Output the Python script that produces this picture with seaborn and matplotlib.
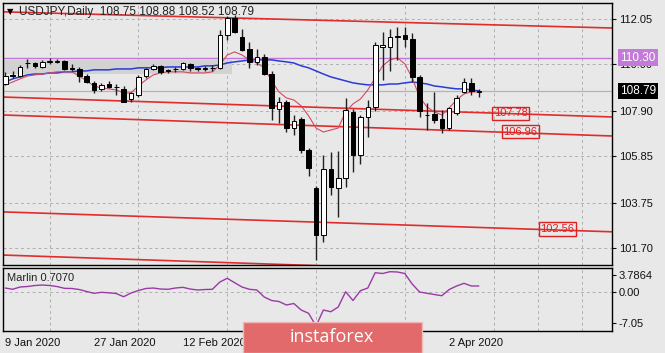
import matplotlib
matplotlib.use('Agg')
import matplotlib.pyplot as plt
from matplotlib.patches import Rectangle
from matplotlib.ticker import FixedLocator
import seaborn as sns

# USDJPY daily candles, 9 Jan .. 8 Apr 2020 (bar index 0..64)
opens = [109.10, 109.50, 109.45, 110.05, 110.05, 109.88, 110.12, 110.12, 110.15, 109.82,
         109.80, 109.47, 109.15, 108.88, 109.10, 108.98, 108.90, 108.43, 108.62, 109.47,
         109.79, 109.93, 109.74, 109.78, 109.79, 110.00, 109.82, 109.80, 109.83, 109.83,
         111.33, 112.10, 111.24, 110.70, 110.10, 110.33, 109.56, 107.98, 108.30, 107.12,
         107.53, 106.13, 104.41, 102.29, 105.27, 104.41, 104.86, 107.85, 105.90, 107.62,
         108.07, 110.80, 110.79, 111.24, 111.33, 111.15, 109.43, 107.70, 107.76, 107.53,
         107.12, 107.80, 108.75, 109.16, 108.75]
highs = [109.66, 109.69, 109.95, 110.22, 110.12, 110.18, 110.30, 110.22, 110.20, 110.00,
         109.90, 109.55, 109.25, 109.15, 109.25, 109.10, 109.02, 108.75, 109.50, 109.85,
         110.02, 109.98, 109.80, 109.90, 110.12, 110.08, 109.90, 109.92, 109.95, 111.55,
         112.18, 112.23, 111.60, 111.00, 110.70, 110.45, 109.70, 108.53, 108.40, 107.71,
         107.60, 106.20, 104.50, 105.90, 106.04, 106.10, 108.48, 108.00, 107.70, 108.39,
         111.00, 111.46, 111.60, 111.70, 111.70, 111.40, 109.50, 108.25, 108.75, 107.94,
         108.07, 108.62, 109.38, 109.38, 108.88]
lows = [109.05, 109.40, 109.42, 109.85, 109.85, 109.82, 110.00, 110.05, 109.76, 109.70,
        109.20, 109.15, 108.70, 108.80, 108.95, 108.60, 108.30, 108.30, 108.50, 109.40,
        109.75, 109.58, 109.60, 109.65, 109.75, 109.70, 109.70, 109.70, 109.70, 109.80,
        111.10, 111.40, 110.60, 109.84, 109.95, 109.50, 107.50, 107.35, 106.94, 106.81,
        106.00, 104.96, 101.16, 101.97, 104.10, 103.10, 104.46, 105.13, 105.50, 106.72,
        107.90, 109.30, 109.70, 110.20, 110.80, 109.20, 107.60, 107.03, 107.35, 106.90,
        107.03, 107.70, 108.70, 108.60, 108.52]
closes = [109.47, 109.45, 109.90, 110.08, 109.92, 110.12, 110.13, 110.17, 109.80, 109.80,
          109.45, 109.22, 108.82, 109.08, 108.98, 108.97, 108.30, 108.70, 109.43, 109.79,
          109.93, 109.66, 109.71, 109.80, 110.06, 109.83, 109.79, 109.81, 109.85, 111.33,
          112.10, 111.46, 110.65, 110.10, 110.33, 109.56, 108.03, 108.30, 107.12, 107.44,
          106.13, 105.32, 102.29, 105.27, 104.46, 104.86, 107.94, 105.90, 107.62, 108.07,
          110.88, 110.85, 111.24, 111.26, 111.15, 109.43, 107.89, 107.73, 107.49, 107.12,
          108.03, 108.48, 109.20, 108.80, 108.79]

# moving averages
ma_fast = [109.07, 109.20, 109.34, 109.47, 109.52, 109.56, 109.61, 109.66, 109.66, 109.66,
           109.47, 109.25, 109.02, 108.93, 108.89, 108.84, 108.71, 108.71, 109.02, 109.29,
           109.52, 109.61, 109.66, 109.66, 109.66, 109.61, 109.61, 109.61, 109.66, 109.97,
           110.42, 110.56, 110.42, 110.20, 110.06, 109.84, 109.25, 108.75, 108.48, 108.39,
           108.12, 107.67, 107.12, 106.94, 107.03, 107.12, 107.85, 108.21, 108.43, 108.84,
           109.38, 109.93, 110.20, 110.29, 110.02, 109.38, 108.52, 108.07, 107.85, 107.71,
           108.03, 108.39, 108.66, 108.75, 108.75]
ma_slow = [109.20, 109.34, 109.43, 109.52, 109.56, 109.56, 109.61, 109.61, 109.66, 109.66,
           109.70, 109.70, 109.75, 109.75, 109.75, 109.79, 109.79, 109.79, 109.84, 109.84,
           109.84, 109.84, 109.88, 109.88, 109.88, 109.88, 109.88, 109.93, 109.93, 109.97,
           110.06, 110.11, 110.15, 110.20, 110.20, 110.20, 110.20, 110.15, 110.11, 110.06,
           109.93, 109.84, 109.70, 109.56, 109.43, 109.34, 109.25, 109.16, 109.11, 109.07,
           109.07, 109.07, 109.11, 109.11, 109.16, 109.20, 109.16, 109.11, 109.02, 108.98,
           108.93, 108.89, 108.89, 108.84, 108.80]

# Marlin oscillator
marlin = [0.84, 0.55, 1.07, 1.18, 1.41, 1.52, 1.41, 1.18, 0.77, 0.73,
          0.50, 0.05, -0.36, -0.14, -0.25, -0.41, -1.14, -0.30, 0.27, 0.73,
          0.84, 0.61, 0.55, 0.84, 1.00, 0.61, 0.39, 0.50, 0.55, 2.20,
          3.05, 2.05, 1.07, 0.55, 0.39, -1.20, -2.00, -2.23, -3.02, -2.68,
          -4.16, -4.91, -7.80, -4.16, -4.55, -3.48, 0.00, -2.00, 0.23, 0.84,
          4.32, 4.14, 4.55, 4.48, 4.14, 1.75, -0.07, -0.36, -0.64, -0.91,
          0.50, 1.30, 1.91, 1.30, 1.30]

# date axis: labels under the watermark are not visible in the source
date_ticks = [0, 12, 24, 36, 48, 60]
date_labels = ['9 Jan 2020', '27 Jan 2020', '12 Feb 2020', '', '', '2 Apr 2020']
price_ticks = [101.70, 103.75, 105.85, 107.90, 110.00, 112.05]
marlin_ticks = [-7.05, 0.00, 3.7864]
marlin_tick_labels = ['-7.05', '0.00', '3.7864']

# trend channel lines: price at left edge, price at right edge
channel_start = [112.37, 108.52, 107.71, 103.33, 101.38]
channel_end = [111.64, 107.62, 106.76, 102.43, 100.45]

level_values = [107.78, 106.96, 102.56]
resistance = 110.30
last_price = 108.79

sns.set_style('white')
plt.rcParams['font.family'] = ['Liberation Sans', 'DejaVu Sans']

BG = '#e8e8e8'
W, H = 665, 353
X0, X1 = -0.3, 82.0

fig = plt.figure(figsize=(W / 100, H / 100), dpi=100, facecolor=BG)
ax = fig.add_axes([3 / W, 1 - 265 / H, 609 / W, 262 / H], facecolor=BG)
ax2 = fig.add_axes([3 / W, 1 - 331 / H, 609 / W, 63 / H], facecolor=BG, sharex=ax)

idx = list(range(len(closes)))

# consolidation range box
ax.add_patch(Rectangle((X0, 109.56), 30.9, 0.64, facecolor='#d2d2d2', edgecolor='none', zorder=1))

# horizontal levels
ax.axhline(resistance, color='#c276dc', lw=1, zorder=2)
ax.axhline(last_price, color='#b4b4b4', lw=0.9, zorder=2)

for a, b in zip(channel_start, channel_end):
    sns.lineplot(x=[X0, X1], y=[a, b], ax=ax, color='#e02c2c', lw=1.2, zorder=2)

sns.lineplot(x=idx, y=ma_slow, ax=ax, color='#2a3bd8', lw=1.1, zorder=3)
sns.lineplot(x=idx, y=ma_fast, ax=ax, color='#d24a62', lw=0.8, zorder=3)

# candles
ax.vlines(idx, lows, highs, color='#202020', lw=1, zorder=4)
bottoms = [min(o, c) for o, c in zip(opens, closes)]
heights = [max(abs(c - o), 0.025) for o, c in zip(opens, closes)]
colors = ['white' if c >= o else 'black' for o, c in zip(opens, closes)]
ax.bar(idx, heights, bottom=bottoms, width=0.62, color=colors, edgecolor='black', linewidth=0.7, zorder=5)

# level labels on the channel lines
for val, xpos in zip(level_values, [68.3, 69.6, 74.6]):
    ax.text(xpos, val, f'{val:.2f}', color='#e02020', fontsize=8, ha='center', va='center', zorder=6,
            bbox=dict(boxstyle='square,pad=0.15', facecolor='none', edgecolor='#e02020', lw=1))

ax.set_xlim(X0, X1)
ax.set_ylim(100.93, 112.77)
ax.yaxis.tick_right()
ax.set_yticks(price_ticks)
ax.set_yticklabels([f'{p:.2f}' for p in price_ticks])
ax.tick_params(axis='y', direction='out', length=3, pad=2, labelsize=8, colors='#111111', width=0.8)
ax.tick_params(axis='x', bottom=False, labelbottom=False)
ax.xaxis.set_minor_locator(FixedLocator(range(0, 84, 6)))
ax.grid(axis='y', which='major', color='#b0b0b0', lw=0.7, ls=(0, (3, 3)))
ax.grid(axis='x', which='minor', color='#b0b0b0', lw=0.7, ls=(0, (3, 3)))
ax.grid(axis='x', which='major', visible=False)
ax.tick_params(axis='x', which='minor', length=0)

ytr = ax.get_yaxis_transform()
ax.text(1.013, resistance, f'{resistance:.2f}', transform=ytr, color='white', fontsize=8.5, ha='left',
        va='center', zorder=10, clip_on=False,
        bbox=dict(boxstyle='square,pad=0.2', facecolor='#c47ad9', edgecolor='none'))
ax.text(1.013, last_price, f'{last_price:.2f}', transform=ytr, color='white', fontsize=8.5, ha='left',
        va='center', zorder=10, clip_on=False,
        bbox=dict(boxstyle='square,pad=0.2', facecolor='black', edgecolor='none'))

# indicator panel
sns.lineplot(x=idx, y=marlin, ax=ax2, color='#9a3aa6', lw=1, zorder=3)
ax2.axhline(0, color='#b0b0b0', lw=0.7, ls=(0, (3, 3)), zorder=1)
ax2.set_ylim(-8.93, 5.39)
ax2.yaxis.tick_right()
ax2.set_yticks(marlin_ticks)
ax2.set_yticklabels(marlin_tick_labels)
ax2.tick_params(axis='y', direction='out', length=3, pad=2, labelsize=8, colors='#111111', width=0.8)
ax2.set_xticks(date_ticks)
ax2.set_xticklabels(date_labels)
for lab in ax2.get_xticklabels():
    lab.set_ha('left')
ax2.tick_params(axis='x', direction='out', length=4, pad=1, labelsize=8, colors='#111111', width=0.8)
ax2.xaxis.set_minor_locator(FixedLocator(range(0, 84, 6)))
ax2.tick_params(axis='x', which='minor', length=0)
ax2.grid(axis='x', which='minor', color='#b0b0b0', lw=0.7, ls=(0, (3, 3)))
ax2.grid(axis='x', which='major', visible=False)
ax2.text(0.007, 0.84, 'Marlin 0.7070', transform=ax2.transAxes, fontsize=8, color='#222222', va='center')

for a in (ax, ax2):
    a.set_xlabel('')
    a.set_ylabel('')
    for s in a.spines.values():
        s.set_color('black')
        s.set_linewidth(1)

# header
fig.text(7 / W, 1 - 12 / H, '\u25bc', fontsize=6, color='black', va='center', family='DejaVu Sans')
fig.text(19 / W, 1 - 12 / H, 'USDJPY,Daily  108.75 108.88 108.52 108.79', fontsize=8.5, color='#222222',
         va='center')

# watermark
fig.add_artist(Rectangle((243 / W, 0), 179 / W, 31 / H, transform=fig.transFigure,
                         facecolor='#e26a6a', edgecolor='#f2b8b8', lw=1, zorder=20))
fig.text(332 / W, 1 - 337 / H, 'instaforex', fontsize=13, color='white', ha='center', va='center',
         family=['Open Sans', 'DejaVu Sans'], zorder=21)

fig.savefig('out.png', dpi=100, facecolor=BG)
